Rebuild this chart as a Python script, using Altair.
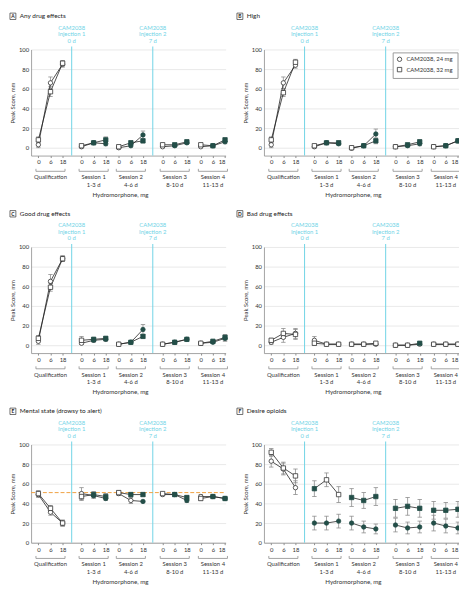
import altair as alt
import pandas as pd

# ---------------- data ----------------
groups = ["Qualification", "Session 1", "Session 2", "Session 3", "Session 4"]
group_days = ["", "1-3 d", "4-6 d", "8-10 d", "11-13 d"]
doses = ["0", "6", "18"]
series = ["CAM2038, 24 mg", "CAM2038, 32 mg"]
injection_labels = ["CAM2038\nInjection 1\n0 d", "CAM2038\nInjection 2\n7 d"]

# A  Any drug effects
A_24 = [3, 66, 85, 1, 5, 4, 0, 2, 13, 1, 2, 5, 1, 2, 6]
A_24_err = [3, 6, 3, 1, 1, 2, 1, 1, 4, 1, 1, 1, 1, 1, 2]
A_24_fill = [0, 0, 0, 0, 1, 1, 0, 1, 1, 0, 1, 1, 0, 1, 1]
A_32 = [8, 57, 86, 2, 5, 8, 1, 5, 7, 3, 3, 6, 3, 2, 8]
A_32_err = [3, 5, 3, 1, 1, 3, 1, 2, 2, 1, 1, 2, 1, 1, 2]
A_32_fill = [0, 0, 0, 0, 1, 1, 0, 1, 1, 0, 1, 1, 0, 1, 1]

# B  High
B_24 = [3, 66, 84, 1, 5, 4, -0.5, 2, 14, 1, 2, 4, 1, 2, 7]
B_24_err = [3, 6, 3, 1, 1, 1, 1, 1, 5, 1, 1, 2, 1, 1, 2]
B_24_fill = [0, 0, 0, 0, 1, 1, 0, 1, 1, 0, 1, 1, 0, 1, 1]
B_32 = [8, 56, 87, 2, 5, 5, 0, 2, 7, 1, 3, 6, 1, 2, 7]
B_32_err = [3, 4, 3, 1, 1, 2, 1, 1, 3, 1, 1, 2, 1, 1, 1]
B_32_fill = [0, 0, 0, 0, 1, 1, 0, 1, 1, 0, 1, 1, 0, 1, 1]

# C  Good drug effects
C_24 = [4, 65, 88, 2, 5, 6, 1, 3, 16, 1, 3, 6, 2, 3, 7]
C_24_err = [3, 7, 3, 1, 2, 2, 1, 1, 5, 1, 1, 1, 1, 1, 3]
C_24_fill = [0, 0, 0, 0, 1, 1, 0, 1, 1, 0, 1, 1, 0, 1, 1]
C_32 = [7, 59, 88, 5, 6, 7, 1, 3, 9, 1, 3, 6, 2, 4, 8]
C_32_err = [3, 4, 3, 4, 2, 2, 1, 1, 2, 1, 2, 1, 1, 1, 3]
C_32_fill = [0, 0, 0, 0, 1, 1, 0, 1, 1, 0, 1, 1, 0, 1, 1]

# D  Bad drug effects
D_24 = [3, 8, 12, 5, 1, 1, 1, 1, 1, 0, 0, 1, 1, 1, 1]
D_24_err = [2, 5, 5, 4, 1, 1, 1, 1, 1, 1, 1, 1, 1, 1, 1]
D_24_fill = [0, 0, 0, 0, 0, 0, 0, 0, 0, 0, 0, 0, 0, 0, 0]
D_32 = [5, 12, 11, 2, 1, 1, 1, 1, 2, 0, 0, 2, 1, 1, 1]
D_32_err = [2, 5, 5, 2, 1, 1, 1, 1, 1, 1, 1, 1, 1, 1, 1]
D_32_fill = [0, 0, 0, 0, 0, 0, 0, 0, 0, 0, 0, 1, 0, 0, 0]

# E  Mental state (drowsy to alert)
E_24 = [49, 31, 20, 50, 48, 45, 50, 43, 42, 49, 49, 43, 47, 47, 45]
E_24_err = [3, 3, 3, 6, 3, 2, 2, 3, 1, 1, 2, 2, 2, 1, 1]
E_24_fill = [0, 0, 0, 0, 1, 1, 0, 0, 1, 0, 1, 1, 0, 1, 1]
E_32 = [50, 35, 20, 47, 49, 47, 51, 49, 49, 50, 49, 46, 45, 47, 45]
E_32_err = [3, 3, 3, 4, 3, 3, 2, 2, 2, 1, 2, 2, 2, 1, 1]
E_32_fill = [0, 0, 0, 0, 1, 1, 0, 1, 1, 0, 1, 1, 0, 1, 1]
E_reference = [51]

# F  Desire opioids
F_24 = [83, 75, 56, 20, 20, 22, 20, 16, 14, 18, 15, 16, 20, 17, 15]
F_24_err = [6, 6, 7, 7, 7, 7, 7, 6, 5, 7, 6, 6, 8, 7, 6]
F_24_fill = [0, 0, 0, 1, 1, 1, 1, 1, 1, 1, 1, 1, 1, 1, 1]
F_32 = [92, 76, 68, 55, 64, 49, 46, 43, 47, 35, 37, 35, 33, 33, 34]
F_32_err = [4, 6, 7, 8, 7, 8, 9, 8, 9, 9, 9, 9, 9, 8, 8]
F_32_fill = [0, 0, 0, 1, 0, 0, 1, 1, 1, 1, 1, 1, 1, 1, 1]

# ---------------- layout / style ----------------
group_offset = [0, 3.56, 6.63, 10.25, 13.4]
injection_pos = [2.75, 9.44]
XDOM = [-0.6, 15.45]
W = 198
FONT = "Lato, sans-serif"
CYAN = "#6fd3e6"
TEAL = "#234e48"
GREY = "#8c8c8c"
FS = 6

positions = [group_offset[g] + d for g in range(len(groups)) for d in range(len(doses))]
label_expr = ""
for i, p in enumerate(positions):
    label_expr += f"abs(datum.value - {p}) < 0.01 ? '{doses[i % 3]}' : "
label_expr += "''"


def panel(letter, title, v24, e24, f24, v32, e32, f32, ydom, h, col,
          legend=False, ref=None):
    rows = []
    for s, vals, errs, fills in ((series[0], v24, e24, f24), (series[1], v32, e32, f32)):
        for gi, g in enumerate(groups):
            for di, d in enumerate(doses):
                k = gi * 3 + di
                rows.append(dict(series=s, group=g, dose=d,
                                 x=group_offset[gi] + di, y=vals[k],
                                 lo=vals[k] - errs[k], hi=vals[k] + errs[k],
                                 sig="filled" if fills[k] else "open"))
    df = pd.DataFrame(rows)
    gdf = pd.DataFrame(dict(name=groups, days=group_days,
                            start=[o - 0.2 for o in group_offset],
                            end=[o + 2.2 for o in group_offset],
                            mid=[o + 1 for o in group_offset]))
    idf = pd.DataFrame(dict(x=injection_pos, label=injection_labels))

    xaxis = alt.Axis(values=positions, labelExpr=label_expr, grid=False, title=None,
                     domainColor=GREY, domainWidth=0.8, tickColor=GREY, tickSize=2,
                     labelFontSize=FS, labelColor="#333", labelPadding=1.5,
                     labelFont=FONT)
    xs = alt.Scale(domain=XDOM, nice=False, zero=False)
    yaxis = alt.Axis(values=[0, 20, 40, 60, 80, 100], grid=True, gridColor="#e3e3e3",
                     gridWidth=0.8, ticks=False, domainColor=GREY, domainWidth=0.8,
                     labelFontSize=FS, labelColor="#333", labelPadding=2.5,
                     labelFont=FONT, title="Peak Score, mm", titleFontSize=FS,
                     titleFontWeight="normal", titleColor="#333", titlePadding=3,
                     titleFont=FONT)
    ys = alt.Scale(domain=ydom, nice=False, zero=False)

    def X(field):
        return alt.X(f"{field}:Q", scale=xs, axis=xaxis)

    def Y(field):
        return alt.Y(f"{field}:Q", scale=ys, axis=yaxis)

    base = alt.Chart(df)
    layers = []
    # injection lines + labels
    layers.append(alt.Chart(idf).mark_rule(color=CYAN, strokeWidth=1).encode(
        x=X("x"), y=alt.value(-3), y2=alt.value(h)))
    layers.append(alt.Chart(idf).mark_text(color=CYAN, fontSize=FS, lineBreak="\n",
                                           lineHeight=6.7, baseline="top",
                                           font=FONT).encode(
        x=X("x"), y=alt.value(-25), text="label:N"))
    if ref is not None:
        rdf = pd.DataFrame(dict(r=ref))
        layers.append(alt.Chart(rdf).mark_rule(color="#f0a040", strokeWidth=1,
                                               strokeDash=[4, 2]).encode(
            y=Y("r"), x=alt.value(0), x2=alt.value(W)))
    # error bars
    layers.append(base.mark_rule(color=GREY, strokeWidth=0.8).encode(
        x=X("x"), y=Y("lo"), y2="hi:Q"))
    layers.append(base.mark_tick(orient="horizontal", size=4.5, thickness=0.8,
                                 color=GREY, opacity=1).encode(x=X("x"), y=Y("lo")))
    layers.append(base.mark_tick(orient="horizontal", size=4.5, thickness=0.8,
                                 color=GREY, opacity=1).encode(x=X("x"), y=Y("hi")))
    # lines
    layers.append(base.mark_line(color="#222", strokeWidth=0.8).encode(
        x=X("x"), y=Y("y"), detail=["series:N", "group:N"]))
    # points
    if legend:
        leg = alt.Legend(orient="none", legendX=131, legendY=3, title=None,
                         strokeColor="#999", fillColor="white", padding=4,
                         labelFontSize=FS, labelFont=FONT, labelColor="#333",
                         symbolSize=20, symbolFillColor="white",
                         symbolStrokeColor="#333", symbolStrokeWidth=0.8,
                         rowPadding=2.5, labelOffset=4, cornerRadius=0)
    else:
        leg = None
    layers.append(base.mark_point(filled=True, size=20, strokeWidth=0.8, opacity=1).encode(
        x=X("x"), y=Y("y"),
        shape=alt.Shape("series:N", scale=alt.Scale(domain=series, range=["circle", "square"]),
                        legend=leg),
        fill=alt.Fill("sig:N", scale=alt.Scale(domain=["open", "filled"], range=["white", TEAL]),
                      legend=None),
        stroke=alt.Stroke("sig:N", scale=alt.Scale(domain=["open", "filled"], range=["#333", TEAL]),
                          legend=None)))
    # group brackets
    g = alt.Chart(gdf)
    layers.append(g.mark_rule(color=GREY, strokeWidth=0.8).encode(
        x=X("start"), x2="end:Q", y=alt.value(h + 16)))
    layers.append(g.mark_rule(color=GREY, strokeWidth=0.8).encode(
        x=X("start"), y=alt.value(h + 13.5), y2=alt.value(h + 16)))
    layers.append(g.mark_rule(color=GREY, strokeWidth=0.8).encode(
        x=X("end"), y=alt.value(h + 13.5), y2=alt.value(h + 16)))
    layers.append(g.mark_text(fontSize=FS, color="#333", font=FONT).encode(
        x=X("mid"), y=alt.value(h + 22), text="name:N"))
    layers.append(g.mark_text(fontSize=FS, color="#333", font=FONT).encode(
        x=X("mid"), y=alt.value(h + 29.5), text="days:N"))
    # x axis title
    one = pd.DataFrame(dict(t=["Hydromorphone, mg"], l=[letter], n=[title]))
    o = alt.Chart(one)
    layers.append(o.mark_text(fontSize=FS + 0.3, color="#333", font=FONT).encode(
        x=alt.value(W / 2 - 8), y=alt.value(h + 40), text="t:N"))
    # panel title
    bx = -21.5 if col == 0 else -27.5
    layers.append(o.mark_rect(fill="white", stroke="#333", strokeWidth=0.7).encode(
        x=alt.value(bx), x2=alt.value(bx + 6), y=alt.value(-37), y2=alt.value(-30.5)))
    layers.append(o.mark_text(fontSize=5, fontWeight="bold", color="#222", font=FONT).encode(
        x=alt.value(bx + 3), y=alt.value(-33.7), text="l:N"))
    layers.append(o.mark_text(fontSize=FS + 0.5, color="#222", align="left", font=FONT).encode(
        x=alt.value(bx + 10), y=alt.value(-33.7), text="n:N"))

    return alt.layer(*layers).properties(width=W, height=h)


pA = panel("A", "Any drug effects", A_24, A_24_err, A_24_fill, A_32, A_32_err, A_32_fill, [-8, 100], 108, 0)
pB = panel("B", "High", B_24, B_24_err, B_24_fill, B_32, B_32_err, B_32_fill, [-8, 100], 108, 1, legend=True)
pC = panel("C", "Good drug effects", C_24, C_24_err, C_24_fill, C_32, C_32_err, C_32_fill, [-8, 100], 108, 0)
pD = panel("D", "Bad drug effects", D_24, D_24_err, D_24_fill, D_32, D_32_err, D_32_fill, [-8, 100], 108, 1)
pE = panel("E", "Mental state (drowsy to alert)", E_24, E_24_err, E_24_fill, E_32, E_32_err, E_32_fill, [0, 100], 100, 0, ref=E_reference)
pF = panel("F", "Desire opioids", F_24, F_24_err, F_24_fill, F_32, F_32_err, F_32_fill, [0, 100], 100, 1)

chart = alt.concat(pA, pB, pC, pD, pE, pF, columns=2,
                   spacing={"row": 93, "column": 39}, bounds="flush").resolve_scale(
    shape="independent", fill="independent", stroke="independent"
).resolve_legend(shape="independent").properties(
    autosize=alt.AutoSizeParams(type="none"),
    padding={"left": 23.5, "top": 37, "right": 435.5, "bottom": 549},
    background="white",
).configure_view(stroke=None)

chart.save("out.html", embed_options={"renderer": "svg", "actions": False})
